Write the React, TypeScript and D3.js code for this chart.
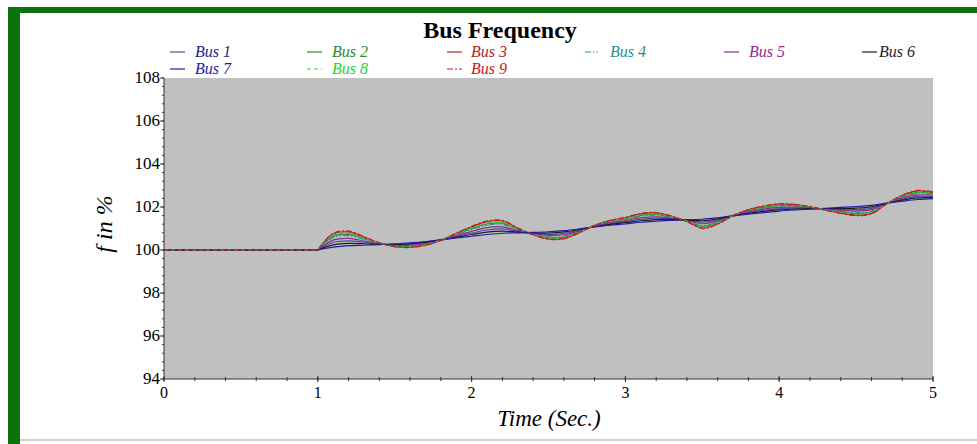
import React from "react";
import * as d3 from "d3";

const TIME = [0, 0.9, 1.0, 1.1, 1.2, 1.3, 1.4, 1.5, 1.6, 1.7, 1.8, 1.9, 2.0, 2.1, 2.2, 2.3, 2.4, 2.5, 2.6, 2.7, 2.8, 2.9, 3.0, 3.1, 3.2, 3.3, 3.4, 3.5, 3.6, 3.7, 3.8, 3.9, 4.0, 4.1, 4.2, 4.3, 4.4, 4.5, 4.6, 4.7, 4.8, 4.9, 5.0];

const BUS1 = [100, 100, 100, 100.35, 100.42, 100.36, 100.28, 100.24, 100.26, 100.33, 100.46, 100.63, 100.79, 100.93, 100.98, 100.87, 100.78, 100.73, 100.77, 100.92, 101.10, 101.22, 101.32, 101.42, 101.48, 101.45, 101.38, 101.29, 101.40, 101.59, 101.74, 101.85, 101.92, 101.95, 101.94, 101.91, 101.89, 101.88, 101.94, 102.17, 102.36, 102.49, 102.50];
const BUS2 = [100, 100, 100, 100.64, 100.73, 100.53, 100.31, 100.18, 100.17, 100.26, 100.45, 100.73, 101.00, 101.21, 101.25, 100.97, 100.73, 100.58, 100.60, 100.84, 101.13, 101.33, 101.45, 101.61, 101.65, 101.54, 101.34, 101.10, 101.27, 101.60, 101.83, 101.98, 102.07, 102.06, 101.99, 101.87, 101.76, 101.69, 101.77, 102.16, 102.49, 102.68, 102.63];
const BUS3 = [100, 100, 100, 100.74, 100.84, 100.60, 100.33, 100.16, 100.13, 100.23, 100.45, 100.77, 101.07, 101.32, 101.35, 101.01, 100.71, 100.52, 100.54, 100.81, 101.15, 101.37, 101.50, 101.68, 101.72, 101.57, 101.33, 101.02, 101.22, 101.60, 101.87, 102.03, 102.13, 102.11, 102.01, 101.86, 101.72, 101.62, 101.70, 102.15, 102.53, 102.75, 102.68];
const BUS4 = [100, 100, 100, 100.58, 100.67, 100.50, 100.31, 100.19, 100.18, 100.27, 100.46, 100.71, 100.96, 101.15, 101.19, 100.95, 100.74, 100.61, 100.64, 100.86, 101.12, 101.31, 101.43, 101.57, 101.62, 101.52, 101.35, 101.13, 101.29, 101.60, 101.82, 101.95, 102.04, 102.04, 101.98, 101.88, 101.79, 101.73, 101.80, 102.16, 102.46, 102.64, 102.61];
const BUS5 = [100, 100, 100, 100.46, 100.54, 100.42, 100.29, 100.22, 100.22, 100.31, 100.46, 100.67, 100.87, 101.04, 101.08, 100.91, 100.76, 100.68, 100.71, 100.89, 101.11, 101.26, 101.37, 101.49, 101.54, 101.48, 101.37, 101.22, 101.35, 101.60, 101.78, 101.90, 101.98, 101.99, 101.96, 101.90, 101.84, 101.81, 101.88, 102.16, 102.41, 102.56, 102.55];
const BUS6 = [100, 100, 100, 100.24, 100.31, 100.29, 100.26, 100.26, 100.29, 100.36, 100.47, 100.59, 100.72, 100.83, 100.88, 100.83, 100.80, 100.79, 100.84, 100.95, 101.08, 101.19, 101.27, 101.36, 101.41, 101.42, 101.40, 101.36, 101.45, 101.59, 101.71, 101.80, 101.87, 101.90, 101.92, 101.93, 101.93, 101.95, 102.01, 102.17, 102.32, 102.42, 102.45];
const BUS7 = [100, 100, 100, 100.13, 100.20, 100.22, 100.25, 100.29, 100.33, 100.39, 100.47, 100.56, 100.64, 100.72, 100.78, 100.80, 100.82, 100.85, 100.90, 100.98, 101.07, 101.15, 101.21, 101.29, 101.34, 101.38, 101.41, 101.43, 101.50, 101.59, 101.67, 101.74, 101.81, 101.86, 101.90, 101.94, 101.98, 102.02, 102.08, 102.18, 102.27, 102.35, 102.39];
const BUS8 = [100, 100, 100, 100.67, 100.77, 100.55, 100.32, 100.17, 100.15, 100.25, 100.45, 100.74, 101.02, 101.25, 101.28, 100.98, 100.72, 100.56, 100.58, 100.83, 101.14, 101.34, 101.47, 101.63, 101.67, 101.55, 101.34, 101.07, 101.25, 101.60, 101.85, 102.00, 102.09, 102.08, 102.00, 101.87, 101.75, 101.67, 101.75, 102.15, 102.50, 102.70, 102.65];
const BUS9 = [100, 100, 100, 100.78, 100.88, 100.62, 100.33, 100.15, 100.12, 100.22, 100.45, 100.78, 101.10, 101.35, 101.38, 101.02, 100.70, 100.50, 100.52, 100.80, 101.15, 101.38, 101.52, 101.70, 101.74, 101.58, 101.32, 101.00, 101.20, 101.60, 101.88, 102.05, 102.15, 102.12, 102.02, 101.85, 101.70, 101.60, 101.68, 102.15, 102.55, 102.77, 102.70];

const SERIES_NAMES = ["Bus 1", "Bus 2", "Bus 3", "Bus 4", "Bus 5", "Bus 6", "Bus 7", "Bus 8", "Bus 9"];
const SERIES_VALUES = [BUS1, BUS2, BUS3, BUS4, BUS5, BUS6, BUS7, BUS8, BUS9];
const X_TICKS = [0, 1, 2, 3, 4, 5];
const Y_TICKS = [94, 96, 98, 100, 102, 104, 106, 108];
const STEP_TIME = 1.0;

const COLORS = ["#4a4aa0", "#2a8c2a", "#b02424", "#23918f", "#8e2a8e", "#1e1e1e", "#1c1ca8", "#2fd02f", "#d41414"];
const TEXT_COLORS = ["#24248a", "#2a8c2a", "#b02424", "#23918f", "#8e2a8e", "#1e1e1e", "#1c1ca8", "#2fd02f", "#d41414"];
const DASHES = [null, null, null, "6,2,1.5,2,1.5,2", null, null, null, "4,3", "6,2,2,2"];

const W = 977;
const H = 444;
const M = { left: 164, right: 933, top: 78, bottom: 379 };

type Pt = [number, number];

export default function App() {
  const x = d3.scaleLinear().domain([0, 5]).range([M.left, M.right]);
  const y = d3.scaleLinear().domain([94, 108]).range([M.bottom, M.top]);
  const flatLine = d3
    .line<Pt>()
    .x((d) => x(d[0]))
    .y((d) => y(d[1]));
  const smoothLine = d3
    .line<Pt>()
    .x((d) => x(d[0]))
    .y((d) => y(d[1]))
    .curve(d3.curveCatmullRom.alpha(0.5));

  const xMinor = d3.range(0, 5.0001, 0.2);
  const yMinor = d3.range(94, 108.0001, 0.4);

  const legendCols = [
    { lx: 170, tx: 195 },
    { lx: 307, tx: 332 },
    { lx: 447, tx: 471 },
    { lx: 585, tx: 610 },
    { lx: 724, tx: 749 },
    { lx: 862, tx: 879 },
  ];
  const legendRows = [52, 69];

  const serif = "'Liberation Serif', 'DejaVu Serif', serif";

  const pathFor = (vals: number[]) => {
    const pts: Pt[] = vals.map((v, i) => [TIME[i], v]);
    const before = pts.filter((p) => p[0] <= STEP_TIME);
    const after = pts.filter((p) => p[0] >= STEP_TIME);
    return (flatLine(before) ?? "") + (smoothLine(after) ?? "");
  };

  return (
    <svg
      width={W}
      height={H}
      style={{ position: "absolute", left: 0, top: 0, background: "#ffffff" }}
      fontFamily={serif}
    >
      {/* frame */}
      <rect x={0} y={0} width={W} height={H} fill="#ffffff" />
      <rect x={8} y={7} width={W - 8} height={6} fill="#0b730b" />
      <rect x={8} y={7} width={12} height={H - 7} fill="#0b730b" />
      <rect x={20} y={439} width={W - 20} height={2} fill="#c7d9bf" />

      {/* title */}
      <text x={500} y={38} textAnchor="middle" fontSize={24} fontWeight="bold" fill="#000">
        Bus Frequency
      </text>

      {/* legend */}
      {SERIES_NAMES.map((name, i) => {
        const col = legendCols[i % 6];
        const ry = legendRows[Math.floor(i / 6)];
        return (
          <g key={name}>
            <line
              x1={col.lx}
              x2={col.lx + 15}
              y1={ry}
              y2={ry}
              stroke={COLORS[i]}
              strokeWidth={1.2}
              strokeDasharray={DASHES[i] ?? undefined}
            />
            <text x={col.tx} y={ry + 5} fontSize={16} fontStyle="italic" fill={TEXT_COLORS[i]}>
              {name}
            </text>
          </g>
        );
      })}

      {/* plot background */}
      <rect x={M.left} y={M.top} width={M.right - M.left} height={M.bottom - M.top} fill="#c0c0c0" />

      {/* series */}
      {SERIES_VALUES.map((vals, i) => (
        <path
          key={i}
          d={pathFor(vals)}
          fill="none"
          stroke={COLORS[i]}
          strokeWidth={1.2}
          strokeDasharray={DASHES[i] ?? undefined}
        />
      ))}

      {/* axes */}
      <line x1={M.left} x2={M.right} y1={M.bottom} y2={M.bottom} stroke="#333" strokeWidth={1} />
      <line x1={M.left} x2={M.left} y1={M.top} y2={M.bottom} stroke="#333" strokeWidth={1} />

      {xMinor.map((t, i) => (
        <line key={"xm" + i} x1={x(t)} x2={x(t)} y1={M.bottom - 2} y2={M.bottom + 2} stroke="#333" strokeWidth={1} />
      ))}
      {X_TICKS.map((t) => (
        <g key={"xt" + t}>
          <line x1={x(t)} x2={x(t)} y1={M.bottom - 3} y2={M.bottom + 3} stroke="#333" strokeWidth={1} />
          <text x={x(t)} y={398} textAnchor="middle" fontSize={16} fill="#000">
            {t}
          </text>
        </g>
      ))}
      {yMinor.map((v, i) => (
        <line key={"ym" + i} x1={M.left - 2} x2={M.left} y1={y(v)} y2={y(v)} stroke="#333" strokeWidth={1} />
      ))}
      {Y_TICKS.map((v) => (
        <g key={"yt" + v}>
          <line x1={M.left - 4} x2={M.left} y1={y(v)} y2={y(v)} stroke="#333" strokeWidth={1} />
          <text x={M.left - 4} y={y(v) + 5} textAnchor="end" fontSize={17} fill="#000">
            {v}
          </text>
        </g>
      ))}

      {/* axis labels */}
      <text x={549} y={426} textAnchor="middle" fontSize={23} fontStyle="italic" fill="#000">
        Time (Sec.)
      </text>
      <text
        transform={`translate(112, 224) rotate(-90)`}
        textAnchor="middle"
        fontSize={24}
        fontStyle="italic"
        fill="#000"
      >
        f in %
      </text>
    </svg>
  );
}
